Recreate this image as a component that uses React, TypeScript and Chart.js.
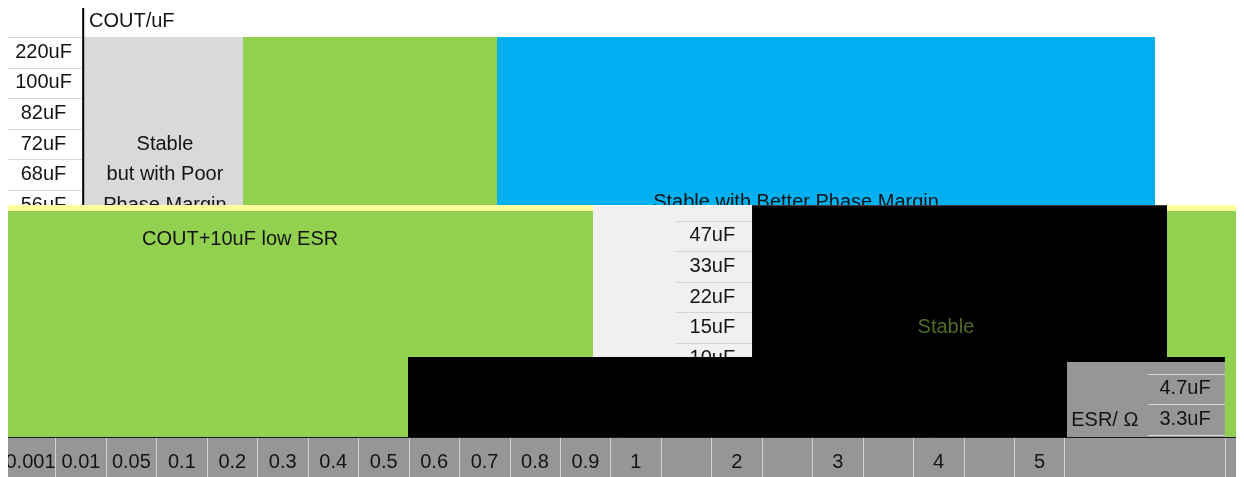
import React, { useEffect, useRef } from 'react';
import { Chart, registerables } from 'chart.js';

Chart.register(...registerables);

// ---- data ----
// ESR (Ω) column labels along the bottom axis, one per cell
const ESR_LABELS = ['0.001', '0.01', '0.05', '0.1', '0.2', '0.3', '0.4', '0.5', '0.6', '0.7', '0.8', '0.9', '1', '', '2', '', '3', '', '4', '', '5', ''];
// column edges (in ESR-column units) – the last cell is wider
const ESR_EDGES = [0, 1, 2, 3, 4, 5, 6, 7, 8, 9, 10, 11, 12, 13, 14, 15, 16, 17, 18, 19, 20, 21, 24.18];
// output capacitance rows (top to bottom)
const COUT_LABELS = ['220uF', '100uF', '82uF', '72uF', '68uF', '56uF', '47uF', '33uF', '22uF', '15uF', '10uF', '4.7uF', '3.3uF'];
const COUT_HEADER = 'COUT/uF';
const ESR_HEADER = 'ESR/ Ω';

// stability regions: ESR-column span × COUT-row span
const POOR_MARGIN = { esr: [1.556, 4.708], cout: [0, 5.49] };
const TOP_GREEN = { esr: [4.708, 9.742], cout: [0, 5.49] };
const BETTER_MARGIN = { esr: [9.742, 22.784], cout: [0, 5.49] };
const MID_STRIP_L = { esr: [-0.5, 11.645], cout: [5.5, 5.686] };
const LOW_ESR_EXTRA = { esr: [-0.5, 11.645], cout: [5.686, 10.46] };
const MID_TABLE = { esr: [11.645, 14.797], cout: [5.53, 10.46] };
const STABLE_MID = { esr: [14.797, 23.023], cout: [5.5, 10.46] };
const MID_STRIP_R = { esr: [23.023, 25], cout: [5.5, 5.686] };
const MID_GREEN_R = { esr: [23.023, 25], cout: [5.686, 10.46] };
const LOW_GREEN_L = { esr: [-0.5, 7.978], cout: [10.46, 13.5] };
const STABLE_LOW = { esr: [7.978, 21.04], cout: [10.46, 13.5] };
const STABLE_LOW_STRIP = { esr: [21.04, 24.17], cout: [10.46, 10.62] };
const LOW_TABLE = { esr: [21.04, 24.17], cout: [10.62, 13.5] };
const LOW_GREEN_R = { esr: [24.17, 25], cout: [10.46, 13.5] };

const REGION_TEXTS = [
  { text: 'Stable', esr: 3.16, cout: 3.5 },
  { text: 'but with Poor', esr: 3.16, cout: 4.5 },
  { text: 'Phase Margin', esr: 3.16, cout: 5.5 },
  { text: 'Stable with Better Phase Margin', esr: 15.67, cout: 5.42 },
  { text: 'COUT+10uF low ESR', esr: 4.65, cout: 6.6 },
];

// ---- styles / layout ----
const FONT = '"Liberation Sans", Arial, sans-serif';
const C = {
  green: '#92d050',
  blue: '#00b0f0',
  lightGray: '#d9d9d9',
  tableGray: '#f0f0f0',
  axisGray: '#969696',
  yellow: '#ffff99',
  black: '#000000',
  text: '#141414',
  darkGreen: '#4f6a2a',
};
const BANDS = { top: [-1, 5.49], mid: [5.49, 10.46], low: [10.46, 13.5] };
const LABEL_COL = { top: 0.753, mid: 14.01, low: 23.38 };

type Region = { esr: number[]; cout: number[] };

function rect(r: Region, color: string) {
  const [x0, x1] = r.esr;
  const [y0, y1] = r.cout;
  return {
    type: 'line' as const,
    data: [
      { x: x0, y: y0 },
      { x: x1, y: y0 },
      { x: x1, y: y1 },
      { x: x0, y: y1 },
      { x: x0, y: y0 },
    ],
    fill: 'shape',
    backgroundColor: color,
    borderColor: 'rgba(0,0,0,0)',
    borderWidth: 0,
    pointRadius: 0,
    tension: 0,
  };
}

export default function App() {
  const ref = useRef<HTMLCanvasElement>(null);

  useEffect(() => {
    const canvas = ref.current;
    if (!canvas) return;

    const datasets: any[] = [
      rect(POOR_MARGIN, C.lightGray),
      rect(TOP_GREEN, C.green),
      rect(BETTER_MARGIN, C.blue),
      rect(MID_STRIP_L, C.yellow),
      rect(LOW_ESR_EXTRA, C.green),
      rect(MID_TABLE, C.tableGray),
      rect(STABLE_MID, C.black),
      rect(MID_STRIP_R, C.yellow),
      rect(MID_GREEN_R, C.green),
      rect(LOW_GREEN_L, C.green),
      rect(STABLE_LOW, C.black),
      rect(STABLE_LOW_STRIP, C.black),
      rect(LOW_TABLE, C.axisGray),
      rect(LOW_GREEN_R, C.green),
    ];

    const overlay = {
      id: 'overlay',
      beforeDraw(chart: any) {
        const { ctx, scales } = chart;
        const xs = scales.x;
        ctx.save();
        ctx.fillStyle = C.axisGray;
        ctx.fillRect(0, xs.top, chart.width, xs.bottom - xs.top + 2);
        ctx.restore();
      },
      afterDatasetsDraw(chart: any) {
        const { ctx, scales } = chart;
        const x = scales.x;
        const y = scales.y;
        const X = (v: number) => x.getPixelForValue(v);
        const Y = (v: number) => y.getPixelForValue(v);

        const hline = (r: number, a: number, b: number, color: string) => {
          ctx.save();
          ctx.strokeStyle = color;
          ctx.lineWidth = 1;
          ctx.beginPath();
          const py = Math.round(Y(r)) + 0.5;
          ctx.moveTo(X(a), py);
          ctx.lineTo(X(b), py);
          ctx.stroke();
          ctx.restore();
        };

        // row separators
        for (let r = 0; r <= 5; r++) hline(r, -0.5, 1.52, '#d9d9d9');
        for (let r = 6; r <= 10; r++) hline(r, 13.29, 14.797, '#d4d4d4');
        for (let r = 11; r <= 13; r++) hline(r, 22.65, 24.17, '#dcdcdc');

        // COUT axis line
        ctx.save();
        ctx.strokeStyle = '#000';
        ctx.lineWidth = 2;
        ctx.beginPath();
        ctx.moveTo(X(1.54), Y(-0.97));
        ctx.lineTo(X(1.54), Y(5.49));
        ctx.stroke();
        ctx.restore();

        const text = (t: string, ex: number, cy: number, band: number[], color = C.text, align: CanvasTextAlign = 'center') => {
          ctx.save();
          ctx.beginPath();
          const top = Y(band[0]);
          const bot = Y(band[1]);
          ctx.rect(0, top, chart.width, bot - top);
          ctx.clip();
          ctx.font = `20px ${FONT}`;
          ctx.fillStyle = color;
          ctx.textAlign = align;
          ctx.textBaseline = 'middle';
          ctx.fillText(t, X(ex), Y(cy));
          ctx.restore();
        };

        text(COUT_HEADER, 1.655, -0.5, BANDS.top, C.text, 'left');
        COUT_LABELS.forEach((lab, i) => {
          const band = i <= 5 ? BANDS.top : i <= 10 ? BANDS.mid : BANDS.low;
          const col = i <= 5 ? LABEL_COL.top : i <= 10 ? LABEL_COL.mid : LABEL_COL.low;
          text(lab, col, i + 0.5, band);
        });
        REGION_TEXTS.forEach((t) => {
          const band = t.cout < 5.49 || t.text === 'Phase Margin' ? BANDS.top : BANDS.mid;
          text(t.text, t.esr, t.cout, band);
        });
        text('Stable', 18.64, 9.5, BANDS.mid, C.darkGreen);
        text(ESR_HEADER, 21.79, 12.53, BANDS.low);
      },
    };

    const chart = new Chart(canvas, {
      type: 'line',
      data: { datasets },
      options: {
        animation: false,
        responsive: false,
        maintainAspectRatio: false,
        events: [],
        layout: { padding: 0 },
        plugins: { legend: { display: false }, tooltip: { enabled: false } },
        scales: {
          x: {
            type: 'linear',
            position: 'bottom',
            min: 0.0496,
            max: 24.39,
            afterBuildTicks: (s: any) => {
              s.ticks = ESR_EDGES.map((v) => ({ value: v }));
            },
            afterFit: (s: any) => {
              s.height = 40;
              s.paddingLeft = 0;
              s.paddingRight = 0;
            },
            ticks: {
              autoSkip: false,
              maxRotation: 0,
              minRotation: 0,
              labelOffset: 25,
              padding: -27,
              color: C.text,
              font: { family: FONT, size: 20 },
              callback: (_v: any, i: number) => ESR_LABELS[i] ?? '',
            },
            grid: {
              drawOnChartArea: false,
              drawTicks: true,
              tickLength: 40,
              color: '#d4d4d4',
              lineWidth: 1,
            },
            border: { display: true, color: '#1a1a1a', width: 1 },
          },
          y: {
            type: 'linear',
            display: false,
            reverse: true,
            min: -0.948,
            max: 13.07,
          },
        },
      } as any,
      plugins: [overlay],
    });

    return () => chart.destroy();
  }, []);

  return (
    <div style={{ width: 1228, height: 469 }}>
      <canvas ref={ref} width={1228} height={469} style={{ display: 'block' }} />
    </div>
  );
}
